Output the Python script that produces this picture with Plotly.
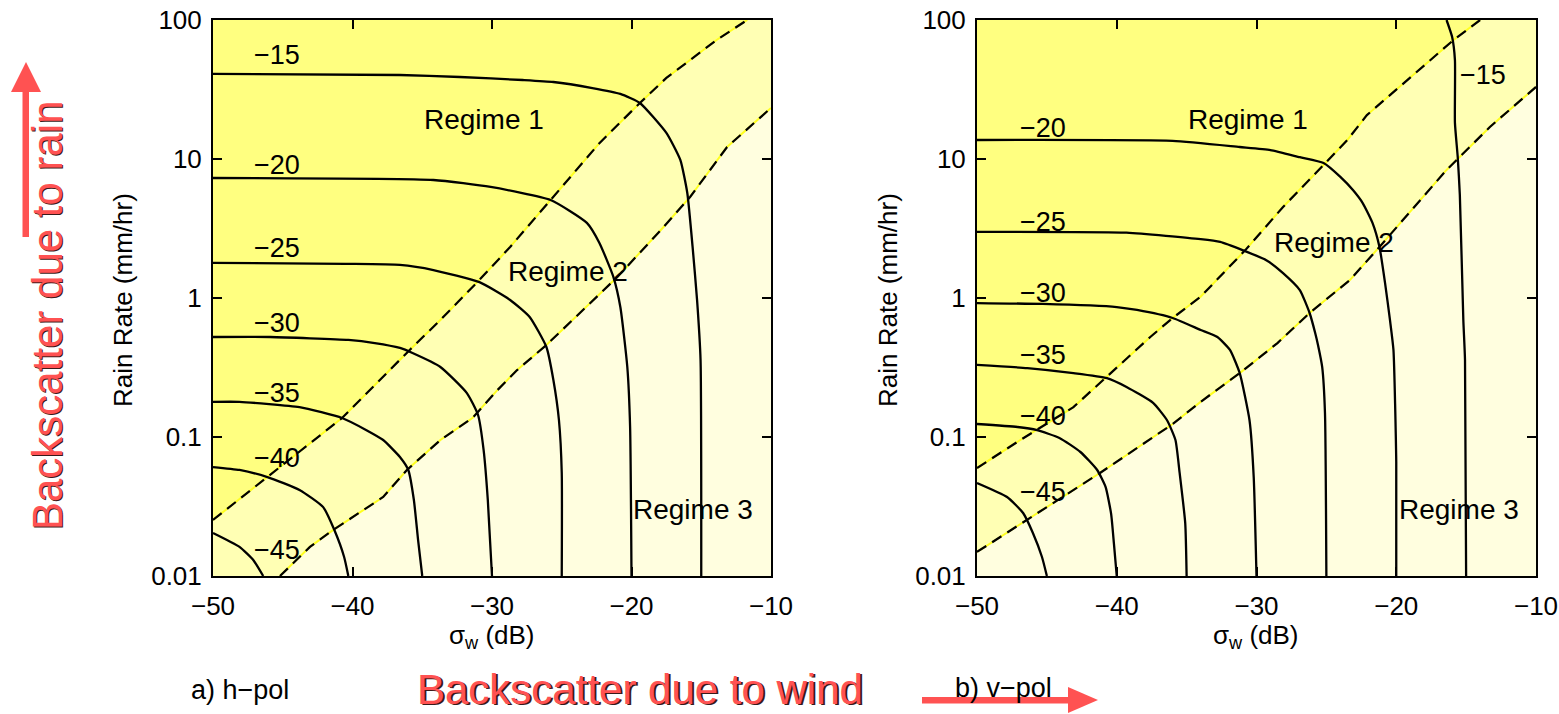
import math
import plotly.graph_objects as go

W, H = 1559, 714

# ---------------- axes ----------------
SW_MIN, SW_MAX = -50, -10          # sigma_w (dB)
RR_MIN, RR_MAX = 0.01, 100         # rain rate (mm/hr)
x_ticks = [-50, -40, -30, -20, -10]
x_tick_text = ["\u221250", "\u221240", "\u221230", "\u221220", "\u221210"]
y_ticks = [0.01, 0.1, 1, 10, 100]
y_tick_text = ["0.01", "0.1", "1", "10", "100"]

levels = [-15, -20, -25, -30, -35, -40, -45]

# ---------------- a) h-pol : iso-lines of total sigma0 (dB) ----------------
h15_sw = [-50, -36.6, -32.3, -27.8, -25.6, -22.8, -20.8, -19.4, -17.5, -16.5, -16.0, -15.6, -15.3, -15.05, -15.0]
h15_rr = [40.9, 40.2, 38.9, 37.0, 35.8, 32.4, 29.4, 25.3, 15.4, 9.84, 5.69, 2.21, 0.968, 0.358, 0.01]

h20_sw = [-50, -34.2, -30.1, -25.8, -23.2, -22.3, -21.3, -20.8, -20.3, -20.1, -20.0]
h20_rr = [7.30, 7.06, 6.29, 5.07, 3.47, 2.49, 1.42, 0.861, 0.319, 0.118, 0.01]

h25_sw = [-50, -40.5, -36.6, -34.2, -30.9, -28.7, -27.3, -26.1, -25.6, -25.2, -25.0, -25.0]
h25_rr = [1.79, 1.76, 1.73, 1.59, 1.30, 0.968, 0.730, 0.444, 0.257, 0.132, 0.0551, 0.01]

h30_sw = [-50, -45.9, -40.3, -38.4, -36.6, -35.7, -33.7, -31.8, -31.0, -30.6, -30.3, -30.0]
h30_rr = [0.524, 0.524, 0.499, 0.474, 0.437, 0.402, 0.319, 0.207, 0.144, 0.0805, 0.0352, 0.01]

h35_sw = [-50, -48.1, -43.8, -40.75, -39.0, -37.8, -36.6, -36.0, -35.6, -35.3, -35.0]
h35_rr = [0.179, 0.179, 0.164, 0.137, 0.112, 0.0951, 0.0718, 0.0579, 0.0352, 0.0182, 0.01]

h40_sw = [-50, -48.1, -46.1, -43.8, -42.1, -41.3, -40.6, -40.3]
h40_rr = [0.0608, 0.0579, 0.0515, 0.0416, 0.0313, 0.0214, 0.0137, 0.01]

h45_sw = [-50, -48.1, -47.1, -46.4]
h45_rr = [0.0204, 0.0162, 0.0130, 0.01]

# regime boundaries (h-pol)
h_upper_sw = [-50, -46.1, -40.75, -35.9, -33.7, -30.9, -28.7, -25.8, -22.3, -19.4, -17.5, -15.8, -13.9, -11.7]
h_upper_rr = [0.0253, 0.0515, 0.137, 0.423, 0.695, 1.35, 2.33, 5.07, 13.0, 25.3, 38.3, 51.5, 71.8, 100]
h_lower_sw = [-45.2, -43.05, -41.4, -39.5, -37.8, -36.1, -33.7, -31.4, -29.6, -28.2, -26.1, -23.7, -21.0, -17.7, -15.8, -13.15, -10.0]
h_lower_rr = [0.01, 0.0162, 0.0214, 0.0284, 0.0370, 0.0579, 0.0951, 0.137, 0.218, 0.303, 0.459, 0.780, 1.42, 3.24, 5.33, 12.2, 23.3]

# ---------------- b) v-pol ----------------
v15_sw = [-16.4, -16.0, -15.8, -15.8, -15.6, -15.45, -15.2, -15.08, -15.0]
v15_rr = [100, 75.5, 51.5, 18.2, 10.3, 5.51, 0.695, 0.358, 0.01]

v20_sw = [-50, -36.0, -31.2, -29.0, -26.9, -25.2, -24.0, -23.1, -22.4, -21.7, -21.2, -20.8, -20.45, -20.2, -20.0, -20.0]
v20_rr = [13.7, 13.5, 12.2, 11.6, 10.3, 9.35, 7.43, 5.98, 4.82, 3.47, 2.33, 1.28, 0.695, 0.423, 0.0661, 0.01]

v25_sw = [-50, -39.3, -34.0, -32.6, -31.0, -29.3, -28.1, -26.9, -26.2, -25.8, -25.6, -25.3, -25.1, -25.0]
v25_rr = [2.99, 2.95, 2.65, 2.53, 2.21, 1.87, 1.51, 1.14, 0.780, 0.560, 0.459, 0.319, 0.149, 0.01]

v30_sw = [-50, -45.3, -40.0, -38.55, -36.0, -34.0, -32.8, -31.9, -31.2, -30.5, -30.2, -30.0]
v30_rr = [0.920, 0.906, 0.861, 0.820, 0.718, 0.589, 0.524, 0.423, 0.288, 0.132, 0.0515, 0.01]

v35_sw = [-50, -46.4, -43.1, -40.7, -39.3, -37.4, -36.4, -35.8, -35.5, -35.1, -35.0]
v35_rr = [0.330, 0.313, 0.288, 0.265, 0.229, 0.176, 0.132, 0.0951, 0.0551, 0.0240, 0.01]

v40_sw = [-50, -47.1, -45.7, -44.1, -42.6, -41.4, -40.8, -40.4, -40.2, -40.0]
v40_rr = [0.124, 0.118, 0.112, 0.0984, 0.0780, 0.0579, 0.0437, 0.0279, 0.0170, 0.01]

v45_sw = [-50, -47.85, -46.7, -46.0, -45.35, -45.0]
v45_rr = [0.0467, 0.0370, 0.0284, 0.0204, 0.0137, 0.01]

# regime boundaries (v-pol)
v_upper_sw = [-50, -46.9, -43.1, -40.3, -37.6, -36.0, -34.0, -30.8, -28.1, -25.2, -23.5, -22.1, -19.2, -15.9, -14.0]
v_upper_rr = [0.0598, 0.0951, 0.164, 0.294, 0.524, 0.718, 1.02, 2.21, 4.52, 9.06, 13.7, 20.7, 37.0, 71.8, 100]
v_lower_sw = [-50, -46.4, -41.2, -36.0, -34.0, -31.2, -28.5, -26.2, -23.3, -20.95, -19.5, -16.4, -13.3, -10.0]
v_lower_rr = [0.0149, 0.0253, 0.0551, 0.124, 0.179, 0.288, 0.474, 0.780, 1.35, 2.49, 3.64, 8.34, 17.0, 33.0]

h_lines = [(h15_sw, h15_rr), (h20_sw, h20_rr), (h25_sw, h25_rr), (h30_sw, h30_rr),
           (h35_sw, h35_rr), (h40_sw, h40_rr), (h45_sw, h45_rr)]
v_lines = [(v15_sw, v15_rr), (v20_sw, v20_rr), (v25_sw, v25_rr), (v30_sw, v30_rr),
           (v35_sw, v35_rr), (v40_sw, v40_rr), (v45_sw, v45_rr)]

# ---------------- styling ----------------
FONT = "Liberation Sans, Arial, sans-serif"
REGIME1 = "#FFFF80"
REGIME2 = "#FFFFB4"
REGIME3 = "#FFFEDF"
EDGE_YELLOW = "#FFFF20"
RED = "#FF5252"

# label placements (sigma_w dB, rain rate mm/hr)
h_label_sw = -45.4
h_label_rr = [56.0, 9.06, 2.29, 0.661, 0.207, 0.0706, 0.0154]
v_label_pos = [(-13.8, 40.2), (-45.3, 16.7), (-45.3, 3.52), (-45.3, 1.09),
               (-45.3, 0.389), (-45.3, 0.142), (-45.3, 0.0402)]
h_regime_pos = [(-30.6, 19.4, "Regime 1"), (-24.55, 1.54, "Regime 2"), (-15.6, 0.0303, "Regime 3")]
v_regime_pos = [(-30.6, 19.4, "Regime 1"), (-24.45, 2.49, "Regime 2"), (-15.5, 0.0303, "Regime 3")]

fig = go.Figure()


def add_panel(xa, ya, lines, upper_sw, upper_rr, lower_sw, lower_rr):
    # Regime 1: above the upper boundary
    fig.add_trace(go.Scatter(
        x=upper_sw + [SW_MIN], y=upper_rr + [RR_MAX], xaxis=xa, yaxis=ya,
        mode="lines", fill="toself", fillcolor=REGIME1, line=dict(width=0),
        hoverinfo="skip", showlegend=False))
    # Regime 3: below the lower boundary
    fig.add_trace(go.Scatter(
        x=lower_sw + [SW_MAX, SW_MIN], y=lower_rr + [RR_MIN, RR_MIN], xaxis=xa, yaxis=ya,
        mode="lines", fill="toself", fillcolor=REGIME3, line=dict(width=0),
        hoverinfo="skip", showlegend=False))
    # boundaries: thin yellow edge with dashed black line on top
    for bx, by in ((upper_sw, upper_rr), (lower_sw, lower_rr)):
        fig.add_trace(go.Scatter(x=bx, y=by, xaxis=xa, yaxis=ya, mode="lines",
                                 line=dict(color=EDGE_YELLOW, width=2),
                                 hoverinfo="skip", showlegend=False))
        fig.add_trace(go.Scatter(x=bx, y=by, xaxis=xa, yaxis=ya, mode="lines",
                                 line=dict(color="black", width=2.2, dash="11px,7px"),
                                 hoverinfo="skip", showlegend=False))
    # iso-lines of total backscatter
    for sw, rr in lines:
        fig.add_trace(go.Scatter(x=sw, y=rr, xaxis=xa, yaxis=ya, mode="lines",
                                 line=dict(color="black", width=2.3, shape="spline", smoothing=0.5),
                                 hoverinfo="skip", showlegend=False))


add_panel("x", "y", h_lines, h_upper_sw, h_upper_rr, h_lower_sw, h_lower_rr)
add_panel("x2", "y2", v_lines, v_upper_sw, v_upper_rr, v_lower_sw, v_lower_rr)

annotations = []


def data_text(xref, yref, sw, rr, text, size):
    annotations.append(dict(xref=xref, yref=yref, x=sw, y=math.log10(rr), text=text,
                            showarrow=False, xanchor="center", yanchor="middle",
                            font=dict(family=FONT, size=size, color="black")))


for lev, rr in zip(levels, h_label_rr):
    data_text("x", "y", h_label_sw, rr, "\u2212%d" % abs(lev), 27)
for lev, (sw, rr) in zip(levels, v_label_pos):
    data_text("x2", "y2", sw, rr, "\u2212%d" % abs(lev), 27)
for sw, rr, t in h_regime_pos:
    data_text("x", "y", sw, rr, t, 28)
for sw, rr, t in v_regime_pos:
    data_text("x2", "y2", sw, rr, t, 28)


def paper_text(xp, yp, text, size, color="black", angle=0, xshift=0, yshift=0):
    annotations.append(dict(xref="paper", yref="paper", x=xp / W, y=1 - yp / H, text=text,
                            showarrow=False, xanchor="center", yanchor="middle",
                            textangle=angle, xshift=xshift, yshift=yshift,
                            font=dict(family=FONT, size=size, color=color)))


# axis titles
paper_text(123, 300, "Rain Rate (mm/hr)", 26, angle=-90)
paper_text(888, 300, "Rain Rate (mm/hr)", 26, angle=-90)
paper_text(492, 636, "\u03c3<sub>w</sub> (dB)", 26)
paper_text(1256, 636, "\u03c3<sub>w</sub> (dB)", 26)
# panel captions
paper_text(240, 690, "a) h\u2212pol", 27)
paper_text(1003, 688, "b) v\u2212pol", 27)
# red explanatory text with a dark drop shadow
for col, sh in (("#3a1a1a", 1.5), (RED, 0)):
    paper_text(47, 315, "Backscatter due to rain", 42, color=col, angle=-90, xshift=sh, yshift=-sh)
    paper_text(640, 689, "Backscatter due to wind", 42, color=col, xshift=sh, yshift=-sh)


def px(x):
    return x / W


def py(y):
    return 1 - y / H


shapes = [
    # vertical arrow (rain)
    dict(type="rect", xref="paper", yref="paper", x0=px(22.5), x1=px(29), y0=py(237), y1=py(88),
         fillcolor=RED, line=dict(width=0)),
    dict(type="path", xref="paper", yref="paper",
         path="M %f,%f L %f,%f L %f,%f Z" % (px(11), py(92), px(41), py(92), px(26), py(62)),
         fillcolor=RED, line=dict(width=0)),
    # horizontal arrow (wind)
    dict(type="rect", xref="paper", yref="paper", x0=px(922), x1=px(1070), y0=py(703.5), y1=py(697),
         fillcolor=RED, line=dict(width=0)),
    dict(type="path", xref="paper", yref="paper",
         path="M %f,%f L %f,%f L %f,%f Z" % (px(1068), py(687), px(1068), py(713), px(1098), py(700)),
         fillcolor=RED, line=dict(width=0)),
]

axis_common = dict(showgrid=False, zeroline=False, showline=True, linecolor="black", linewidth=2,
                   mirror="ticks", ticks="inside", ticklen=9, tickwidth=2, tickcolor="black",
                   automargin=False,
                   tickfont=dict(family=FONT, size=26, color="black"))
xaxis_common = dict(axis_common, range=[SW_MIN, SW_MAX], tickvals=x_ticks, ticktext=x_tick_text,
                    ticklabelstandoff=6)
yaxis_common = dict(axis_common, type="log", range=[math.log10(RR_MIN), math.log10(RR_MAX)],
                    tickvals=y_ticks, ticktext=y_tick_text, ticklabelstandoff=4)

y_dom = [1 - 576 / H, 1 - 20 / H]
fig.update_layout(
    width=W, height=H, margin=dict(l=0, r=0, t=0, b=0, pad=0, autoexpand=False),
    paper_bgcolor="white", plot_bgcolor=REGIME2,
    xaxis=dict(xaxis_common, domain=[213 / W, 771 / W], anchor="y"),
    yaxis=dict(yaxis_common, domain=y_dom, anchor="x"),
    xaxis2=dict(xaxis_common, domain=[977 / W, 1536 / W], anchor="y2"),
    yaxis2=dict(yaxis_common, domain=y_dom, anchor="x2"),
    annotations=annotations, shapes=shapes, showlegend=False,
)

fig.write_html("out.html")
